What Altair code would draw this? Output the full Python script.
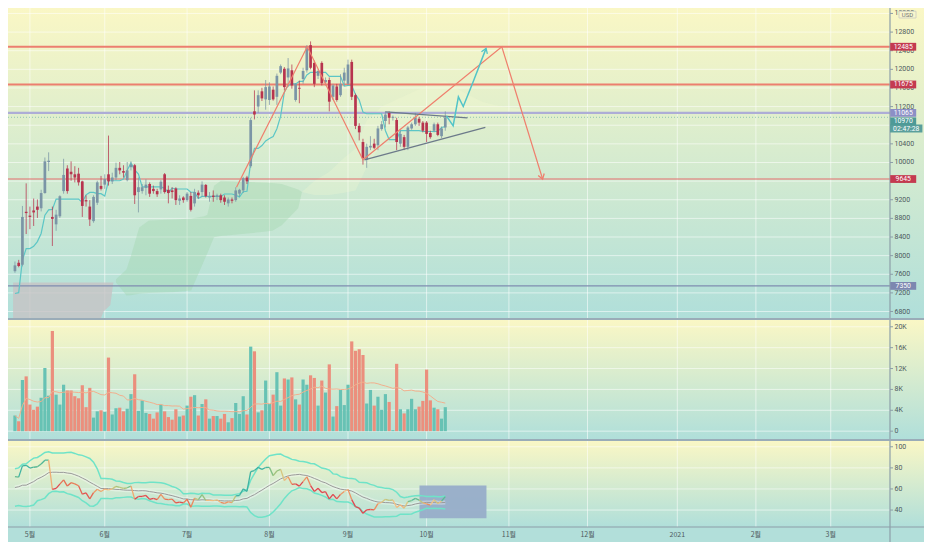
import altair as alt
import numpy as np
import pandas as pd

# ---------------- values ----------------
month_index = [4, 24, 46, 68, 89, 110, 132, 153, 177, 198, 218]
month_label = ["5월", "6월", "7월", "8월", "9월", "10월", "11월", "12월", "2021", "2월", "3월"]

bar_open = [7666, 7847, 7805, 8942, 8859, 8970, 9053, 9018, 9344, 10010,
            8831, 8672, 8845, 9386, 9871, 9802, 9746, 9760, 9594, 9192,
            9053, 8741, 9136, 9497, 9525, 9746, 9594, 9677, 9885, 9816,
            9621, 9899, 9941, 9365, 9386, 9455, 9538, 9434, 9386, 9421,
            9747, 9414, 9400, 9442, 9178, 9248, 9192, 9282, 9122, 9351,
            9365, 9518, 9248, 9289, 9261, 9296, 9248, 9123, 9206, 9192,
            9331, 9400, 9677, 9920, 11098, 11202, 11528, 11355, 11341, 11563,
            11410, 11930, 12013, 11826, 11979, 11341, 11604, 11792, 11979, 12520,
            12138, 11861, 12138, 11722, 11771, 11410, 11632, 11445, 11757, 11688,
            12159, 11445, 10786, 10440, 10058, 10322, 10405, 10370, 10717, 10890,
            11064, 10960, 10912, 10405, 10544, 10336, 10731, 10821, 10939, 10856,
            10856, 10634, 10682, 10821, 10565, 10752]
bar_high = [7874, 7909, 9067, 9552, 9053, 9226, 9206, 9414, 10107, 10218,
            9053, 8984, 9296, 10079, 9941, 10024, 9920, 9885, 9608, 9296,
            9192, 9296, 9608, 9712, 9746, 10578, 9781, 9996, 10010, 9941,
            10010, 10024, 9968, 9677, 9538, 9642, 9573, 9504, 9434, 9622,
            9774, 9504, 9469, 9469, 9296, 9275, 9365, 9365, 9435, 9400,
            9594, 9538, 9365, 9400, 9331, 9331, 9296, 9248, 9248, 9469,
            9435, 9691, 9712, 10960, 11549, 11549, 11604, 11771, 11722, 11632,
            11910, 12104, 12048, 12242, 12104, 11702, 11757, 12034, 12520, 12600,
            12187, 12000, 12173, 11826, 11826, 11688, 11688, 11896, 12034, 12208,
            12208, 11480, 10842, 10509, 10405, 10565, 10509, 10786, 10890, 11098,
            11098, 11010, 10960, 10682, 10592, 10786, 10856, 11064, 10981, 10890,
            10890, 10682, 10856, 10856, 10772, 11098]
bar_low = [7632, 7750, 7770, 8464, 8568, 8637, 8810, 8949, 9330, 9816,
           8207, 8533, 8810, 9330, 9330, 9608, 9573, 9504, 8831, 9053,
           8637, 8706, 9088, 9400, 9434, 9504, 9538, 9621, 9746, 9677,
           9594, 9830, 9109, 8928, 9330, 9296, 9261, 9330, 9261, 9331,
           9331, 9123, 9227, 9088, 9088, 9136, 9157, 8949, 9053, 9227,
           9261, 9247, 9157, 9157, 9192, 9136, 9088, 9053, 9123, 9157,
           9261, 9345, 9538, 9885, 10925, 11064, 11320, 11133, 11237, 11327,
           11237, 11896, 11549, 11618, 11584, 11306, 11272, 11688, 11930, 12000,
           11618, 11792, 11653, 11653, 11098, 11341, 11306, 11410, 11653, 11653,
           11341, 10717, 10474, 9954, 9885, 10266, 10287, 10266, 10682, 10752,
           10821, 10900, 10266, 10336, 10266, 10266, 10703, 10786, 10786, 10647,
           10440, 10509, 10647, 10565, 10523, 10682]
bar_close = [7791, 7777, 8831, 8914, 8831, 8928, 8984, 9344, 10024, 10038,
             8790, 8880, 9275, 9733, 9386, 9746, 9677, 9573, 9067, 9164,
             8776, 9261, 9573, 9434, 9643, 9594, 9677, 9885, 9830, 9781,
             9830, 9954, 9296, 9469, 9469, 9525, 9330, 9386, 9317, 9587,
             9365, 9344, 9365, 9192, 9227, 9192, 9331, 8984, 9365, 9296,
             9525, 9275, 9275, 9261, 9296, 9192, 9157, 9206, 9178, 9400,
             9414, 9663, 9594, 10911, 11029, 11445, 11376, 11618, 11632, 11355,
             11861, 12069, 11618, 12020, 11653, 11688, 11584, 11965, 12485, 12034,
             11688, 11965, 11702, 11771, 11306, 11653, 11341, 11688, 11930, 12104,
             11410, 10786, 10647, 10093, 10336, 10357, 10315, 10731, 10821, 11029,
             10960, 10980, 10440, 10613, 10336, 10752, 10821, 10960, 10856, 10682,
             10613, 10544, 10821, 10592, 10731, 10970]
volume_k = [3.0, 1.9, 9.8, 10.5, 5.1, 4.1, 4.7, 6.4, 12.1, 6.8,
            19.2, 7.0, 5.1, 8.9, 7.8, 7.8, 6.7, 6.3, 8.8, 4.6,
            8.3, 2.6, 3.8, 4.0, 3.7, 14.1, 3.2, 4.4, 4.5, 3.8,
            4.3, 7.1, 10.9, 3.9, 5.9, 3.5, 3.3, 2.4, 3.6, 5.1,
            3.8, 2.7, 2.2, 4.2, 2.8, 3.0, 4.9, 6.6, 6.9, 3.0,
            5.2, 6.1, 2.4, 2.9, 2.9, 2.4, 3.3, 1.7, 2.5, 5.4,
            3.3, 6.7, 3.2, 16.2, 15.3, 3.6, 4.0, 9.7, 5.2, 7.0,
            11.3, 4.9, 10.1, 9.9, 10.3, 6.1, 5.1, 9.9, 8.9, 10.7,
            10.2, 4.9, 9.7, 7.4, 12.8, 2.8, 4.8, 7.9, 5.0, 8.9,
            17.2, 15.4, 15.7, 14.6, 5.3, 7.9, 4.9, 6.6, 4.1, 7.1,
            5.6, 0.2, 12.9, 4.2, 3.4, 4.2, 6.2, 4.2, 4.7, 5.8,
            11.8, 5.9, 4.5, 4.2, 2.4, 4.6]

# bars before the visible window (only feed the indicators)
pre_close = [6400, 6420, 6640, 6800, 6740, 7300, 7200, 7370, 7300, 6860,
             6870, 6630, 7100, 7060, 6880, 6880, 7140, 7500, 7550]
pre_high = [6600, 6550, 6700, 7000, 7000, 7350, 7450, 7420, 7400, 7000,
            6950, 6950, 7200, 7200, 7250, 6950, 7170, 7600, 7650]
pre_low = [5900, 6300, 6200, 6600, 6650, 6750, 7100, 7100, 7200, 6750,
           6750, 6600, 6500, 7000, 6800, 6750, 6850, 7050, 7400]

price_ticks = [6800, 7200, 7600, 8000, 8400, 8800, 9200, 9600, 10000, 10400,
               10800, 11200, 11600, 12000, 12400, 12800, 13200]
vol_ticks = [0, 4, 8, 12, 16, 20]
vol_tick_text = ["0", "4K", "8K", "12K", "16K", "20K"]
osc_ticks = [40, 60, 80, 100]

level_prices = [12485, 11675, 11065, 9645, 7350]
level_text = ["12485", "11675", "11065", "9645", "7350"]
last_price = 10970
countdown = "02:47:28"

zigzag_i = [59.2, 78.1, 93.0, 130.1, 141.0]
zigzag_p = [9470, 12485, 10058, 12485, 9645]
path_i = [115.3, 117.1, 118.5, 119.8, 122.4, 125.9]
path_p = [11000, 10786, 11410, 11202, 11722, 12450]
tri_low_i = [93.4, 125.7]
tri_low_p = [10058, 10752]
tri_up_i = [99.0, 120.9]
tri_up_p = [11085, 10960]

cloud_gray_i = [-0.5, 23.0, 23.7, 25.5, 26.3]
cloud_gray_top = [7424, 7424, 7424, 7424, 7424]
cloud_gray_bot = [6661, 6661, 6800, 6940, 7424]
cloud_green_i = [27.0, 29.8, 31.0, 33.2, 35.8, 42.8, 47.1, 50.6, 51.4, 53.2, 55.0, 65.3, 68.8, 71.3, 75.7, 76.7]
cloud_green_top = [7493, 7700, 8000, 8603, 8755, 8776, 8800, 8845, 8880, 9500, 9608, 9573, 9560, 9538, 9420, 9365]
cloud_green_bot = [7424, 7146, 7150, 7180, 7200, 7220, 7251, 7900, 8048, 8395, 8420, 8500, 8533, 8650, 9018, 9365]
cloud_faint_i = [76.7, 80, 84, 88, 91, 94, 98, 102, 106, 110, 115, 120, 125, 130, 135, 140]
cloud_faint_top = [9365, 9600, 9800, 10100, 10300, 10900, 11200, 11350, 11500, 11650, 11750, 11500, 11300, 11200, 11150, 11100]
cloud_faint_bot = [9365, 9300, 9300, 9350, 9400, 9900, 10400, 10700, 10850, 10900, 10950, 10980, 11000, 11000, 11020, 11050]

osc_box_i = [108.1, 126.0]
osc_box_v = [63.3, 32.1]

# ---------------- layout / style ----------------
PW = 882          # plot width (price axis starts here)
TW = 916          # whole chart width
TH = 534          # whole chart height
P0, P1 = 0, 310   # price pane
V0, V1 = 312, 431 # volume pane
O0, O1 = 433, 519 # oscillator pane
X1 = 534          # bottom of time-axis strip

XS = alt.Scale(domain=[-0.52, 232.5], range=[0, PW], nice=False, zero=False)
PS = alt.Scale(domain=[6661, 13317], range=[P1, P0], nice=False, zero=False)
VS = alt.Scale(domain=[-1.5, 21.3], range=[V1, V0], nice=False, zero=False)
OS = alt.Scale(domain=[23.9, 105.5], range=[O1, O0], nice=False, zero=False)

FONT = "Roboto"
KFONT = "Noto Sans CJK KR"
TXT = "#4f5a60"
AXC = "#8d9ea8"
UP, DN = "#7b95a6", "#b7344e"
VUP, VDN = "#67c2b4", "#eb8f7d"
GRAD = alt.LinearGradient(
    gradient="linear",
    stops=[alt.GradientStop(color="#faf7c5", offset=0),
           alt.GradientStop(color="#b0dfda", offset=1)],
    x1=0, x2=0, y1=0, y2=1)


def xq(f):
    return alt.X(f"{f}:Q", scale=XS, axis=None)


def yq(f, s):
    return alt.Y(f"{f}:Q", scale=s, axis=None)


ONE = pd.DataFrame({"k": [0]})

# ---------------- tables ----------------
df = pd.DataFrame({"i": np.arange(len(bar_close)), "o": bar_open, "h": bar_high,
                   "l": bar_low, "c": bar_close, "vk": volume_k})
df["up"] = df["c"] >= df["o"]

n_pre = len(pre_close)
idx_all = np.arange(-n_pre, len(bar_close))
c_all = pd.Series(pre_close + bar_close, index=idx_all, dtype=float)
h_all = pd.Series(pre_high + bar_high, index=idx_all, dtype=float)
l_all = pd.Series(pre_low + bar_low, index=idx_all, dtype=float)

tenkan = (h_all.rolling(9, min_periods=1).max() + l_all.rolling(9, min_periods=1).min()) / 2
df["tenkan"] = tenkan.loc[0:].values
df["vma"] = pd.Series(volume_k).rolling(20, min_periods=1).mean().values

delta = c_all.diff().fillna(0)
ag = delta.clip(lower=0).ewm(alpha=1 / 14, adjust=True).mean()
al = (-delta).clip(lower=0).ewm(alpha=1 / 14, adjust=True).mean()
rsi = 100 - 100 / (1 + ag / al)
rsi.iloc[:8] = np.nan
mid = rsi.rolling(14, min_periods=1).mean()
sd = rsi.rolling(14, min_periods=1).std(ddof=0)
upper = mid + 2 * sd
lower = mid - 2 * sd

osc = pd.DataFrame({"i": idx_all, "r": rsi.values, "m": mid.values,
                    "u": upper.values, "lo": lower.values})
osc = osc[osc["i"] >= 0].reset_index(drop=True)
osc["pb"] = ((osc["r"] - osc["lo"]) / (osc["u"] - osc["lo"])).clip(0, 1).fillna(0.5)
seg = pd.DataFrame({"i": osc["i"][:-1].values, "i2": osc["i"][1:].values,
                    "r": osc["r"][:-1].values, "r2": osc["r"][1:].values,
                    "pb": ((osc["pb"][:-1].values + osc["pb"][1:].values) / 2)})

mdf = pd.DataFrame({"i": month_index, "t": month_label})
ptk = pd.DataFrame({"v": price_ticks, "t": [str(v) for v in price_ticks]})
vtk = pd.DataFrame({"v": vol_ticks, "t": vol_tick_text})
otk = pd.DataFrame({"v": osc_ticks, "t": [str(v) for v in osc_ticks]})


def bg(top, bottom, fill=GRAD):
    return alt.Chart(ONE).mark_rect(fill=fill, strokeWidth=0).encode(
        x=alt.value(0), x2=alt.value(TW), y=alt.value(top), y2=alt.value(bottom))


def vgrid(top, bottom):
    return alt.Chart(mdf).mark_rule(color="#ffffff", opacity=0.55, strokeWidth=1).encode(
        x=xq("i"), y=alt.value(top), y2=alt.value(bottom))


def hgrid(tdf, s):
    return alt.Chart(tdf).mark_rule(color="#ffffff", opacity=0.55, strokeWidth=1).encode(
        y=yq("v", s), x=alt.value(0), x2=alt.value(PW))


def right_axis(tdf, s, top, bottom):
    line = alt.Chart(ONE).mark_rule(color=AXC, strokeWidth=1.2).encode(
        x=alt.value(PW), y=alt.value(top), y2=alt.value(bottom))
    ticks = alt.Chart(tdf).mark_rule(color=AXC, strokeWidth=1).encode(
        y=yq("v", s), x=alt.value(PW), x2=alt.value(PW + 3))
    labels = alt.Chart(tdf).mark_text(align="left", baseline="middle", fontSize=7,
                                      font=FONT, color=TXT).encode(
        y=yq("v", s), x=alt.value(PW + 4.5), text="t:N")
    return [line, ticks, labels]


def pline(i, p, color, width):
    d = pd.DataFrame({"i": i, "p": p})
    return alt.Chart(d).mark_line(color=color, strokeWidth=width).encode(
        x=xq("i"), y=yq("p", PS))


def arrow(i, p, color, shape, angle):
    d = pd.DataFrame({"i": [i], "p": [p]})
    return alt.Chart(d).mark_point(shape=shape, size=40, filled=False, opacity=1,
                                   strokeWidth=1.3, color=color, angle=angle).encode(
        x=xq("i"), y=yq("p", PS))


def cloud(i, top, bot, fill, opacity):
    d = pd.DataFrame({"i": i, "top": top, "bot": bot})
    return alt.Chart(d).mark_area(fill=fill, opacity=opacity).encode(
        x=xq("i"), y=yq("top", PS), y2="bot:Q")


layers = []

# ---------------- price pane ----------------
layers += [bg(P0, P1), hgrid(ptk, PS), vgrid(P0, P1)]
layers.append(cloud(cloud_gray_i, cloud_gray_top, cloud_gray_bot, "#c7c3c4", 0.8))
layers.append(cloud(cloud_green_i, cloud_green_top, cloud_green_bot, "#9fd3a8", 0.35))
layers.append(cloud(cloud_faint_i, cloud_faint_top, cloud_faint_bot, "#f6fbd2", 0.25))

level_color = ["#ec7f6f", "#ec7f6f", "#adadd6", "#e36c6c", "#7f8db0"]
level_width = [2, 2, 2.2, 1.2, 1.2]
for p, col, w in zip(level_prices, level_color, level_width):
    layers.append(alt.Chart(pd.DataFrame({"v": [p]})).mark_rule(color=col, strokeWidth=w).encode(
        y=yq("v", PS), x=alt.value(0), x2=alt.value(PW)))
layers.append(alt.Chart(pd.DataFrame({"v": [last_price]})).mark_rule(
    color="#5aa9a3", strokeWidth=1, opacity=0.6, strokeDash=[1, 2]).encode(
    y=yq("v", PS), x=alt.value(0), x2=alt.value(PW)))

layers.append(alt.Chart(df).mark_line(color="#5cc6c6", strokeWidth=1.2).encode(
    x=xq("i"), y=yq("tenkan", PS)))
layers.append(alt.Chart(df).mark_rule(strokeWidth=1, opacity=0.75).encode(
    x=xq("i"), y=yq("l", PS), y2="h:Q",
    color=alt.condition("datum.up", alt.value(UP), alt.value(DN))))
layers.append(alt.Chart(df).mark_bar(width=2.7, opacity=1).encode(
    x=xq("i"), y=yq("o", PS), y2="c:Q",
    color=alt.condition("datum.up", alt.value(UP), alt.value(DN))))

layers.append(pline(zigzag_i, zigzag_p, "#ef7f6d", 1.2))
layers.append(arrow(zigzag_i[-1], zigzag_p[-1], "#ef7f6d", "M-1,-1.5L0,0L1,-1.5", 343))
layers.append(pline(tri_low_i, tri_low_p, "#6c7a8a", 1.3))
layers.append(pline(tri_up_i, tri_up_p, "#6c7a8a", 1.3))
layers.append(pline(path_i, path_p, "#52c4c8", 1.5))
layers.append(arrow(path_i[-1], path_p[-1], "#52c4c8", "M-1,1.5L0,0L1,1.5", 21))

layers += right_axis(ptk, PS, P0, P1)

BOX = "M-1,-0.3H1V0.3H-1Z"
BOXW = "M-1,-0.24H1V0.24H-1Z"
box_color = ["#c43a50", "#c43a50", "#8c8fc6", "#c43a50", "#7d87b0"]
for p, t, col in zip(level_prices, level_text, box_color):
    d = pd.DataFrame({"v": [p], "t": [t]})
    layers.append(alt.Chart(d).mark_point(shape=BOX, size=676, filled=True, fill=col,
                                          opacity=1, strokeWidth=0).encode(
        x=alt.value(PW + 13.2), y=yq("v", PS)))
    layers.append(alt.Chart(d).mark_text(color="white", fontSize=6.8, font=FONT,
                                         baseline="middle").encode(
        x=alt.value(PW + 13.2), y=yq("v", PS), text="t:N"))

dlp = pd.DataFrame({"v": [last_price], "t": [str(last_price)], "cd": [countdown]})
layers.append(alt.Chart(dlp).mark_point(shape=BOXW, size=1050, filled=True, fill="#5a9f9c",
                                        opacity=1, strokeWidth=0, yOffset=11.2).encode(
    x=alt.value(PW + 16.2), y=yq("v", PS)))
layers.append(alt.Chart(dlp).mark_text(color="white", fontSize=6.8, font=FONT,
                                       baseline="middle", dy=11.2).encode(
    x=alt.value(PW + 16.2), y=yq("v", PS), text="cd:N"))
layers.append(alt.Chart(dlp).mark_point(shape=BOX, size=676, filled=True, fill="#4e9a97",
                                        opacity=1, strokeWidth=0, yOffset=4).encode(
    x=alt.value(PW + 13.2), y=yq("v", PS)))
layers.append(alt.Chart(dlp).mark_text(color="white", fontSize=6.8, font=FONT,
                                       baseline="middle", dy=4).encode(
    x=alt.value(PW + 13.2), y=yq("v", PS), text="t:N"))

layers.append(alt.Chart(ONE).mark_point(shape="M-1,-0.4H1V0.4H-1Z", size=289, filled=True,
                                        fill="#f8f6cc", stroke="#c9cac2", strokeWidth=0.8,
                                        opacity=1).encode(
    x=alt.value(PW + 17.5), y=alt.value(6.6)))
layers.append(alt.Chart(pd.DataFrame({"t": ["USD"]})).mark_text(
    fontSize=6, font=FONT, color="#6b7378", baseline="middle").encode(
    x=alt.value(PW + 17.5), y=alt.value(6.8), text="t:N"))

# ---------------- volume pane ----------------
layers += [bg(V0, V1), hgrid(vtk, VS), vgrid(V0, V1)]
layers.append(alt.Chart(df).mark_bar(width=3.2, opacity=1).encode(
    x=xq("i"), y=yq("vk", VS), y2=alt.datum(0),
    color=alt.condition("datum.up", alt.value(VUP), alt.value(VDN))))
layers.append(alt.Chart(df).mark_line(color="#f2b08e", strokeWidth=1).encode(
    x=xq("i"), y=yq("vma", VS)))
layers += right_axis(vtk, VS, V0, V1)

# ---------------- oscillator pane ----------------
layers += [bg(O0, O1), bg(O1, X1, "#b2dfda"), hgrid(otk, OS), vgrid(O0, O1)]
obox = pd.DataFrame({"i0": [osc_box_i[0]], "i1": [osc_box_i[1]],
                     "v0": [osc_box_v[0]], "v1": [osc_box_v[1]]})
layers.append(alt.Chart(obox).mark_rect(fill="#97adc9", opacity=0.95).encode(
    x=xq("i0"), x2="i1:Q", y=yq("v0", OS), y2="v1:Q"))
layers.append(alt.Chart(osc).mark_line(color="#6fe3c8", strokeWidth=1.5).encode(
    x=xq("i"), y=yq("u", OS)))
layers.append(alt.Chart(osc).mark_line(color="#6fe3c8", strokeWidth=1.5).encode(
    x=xq("i"), y=yq("lo", OS)))
layers.append(alt.Chart(osc).mark_line(color="#ffffff", strokeWidth=4, opacity=0.35).encode(
    x=xq("i"), y=yq("m", OS)))
layers.append(alt.Chart(osc).mark_line(color="#9a9a9a", strokeWidth=1).encode(
    x=xq("i"), y=yq("m", OS)))
layers.append(alt.Chart(seg).mark_rule(strokeWidth=1.3).encode(
    x=xq("i"), x2="i2:Q", y=yq("r", OS), y2="r2:Q",
    color=alt.Color("pb:Q", legend=None,
                    scale=alt.Scale(domain=[0.15, 0.5, 0.85],
                                    range=["#e0474f", "#f3c58a", "#3fb3a2"], clamp=True))))
layers += right_axis(otk, OS, O0, X1)
layers.append(alt.Chart(ONE).mark_rule(color=AXC, strokeWidth=1.2).encode(
    x=alt.value(0), x2=alt.value(TW), y=alt.value(O1)))
layers.append(alt.Chart(mdf).mark_text(fontSize=7, font=KFONT, color=TXT,
                                       baseline="middle").encode(
    x=xq("i"), y=alt.value(O1 + 7.5), text="t:N"))

chart = alt.layer(*layers).resolve_scale(y="independent").properties(
    width=TW, height=TH, padding=0,
    autosize=alt.AutoSizeParams(type="none"),
).configure(background="#9aacb8").configure_view(stroke=None)

chart.save("out.html", embed_options={"renderer": "svg", "actions": False})
